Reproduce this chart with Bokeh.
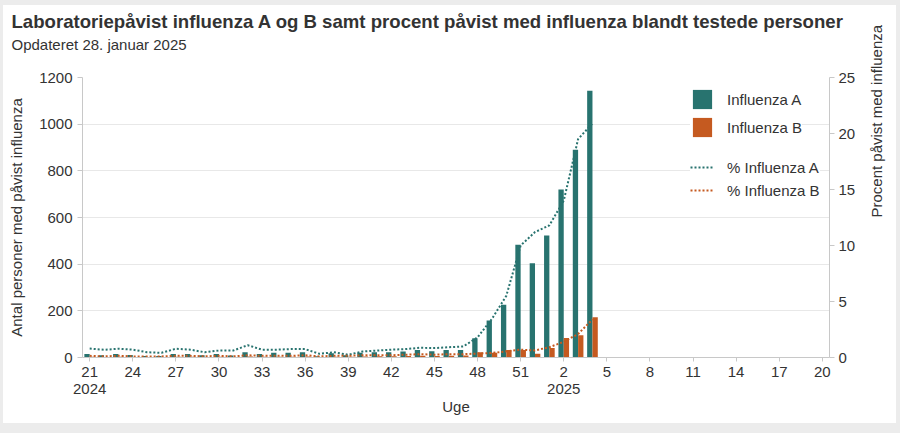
import math
from bokeh.plotting import figure
from bokeh.models import (Range1d, LinearAxis, FixedTicker, Legend, LegendItem,
                          Title, ColumnDataSource)
from bokeh.transform import dodge
from bokeh.embed import file_html
from bokeh.resources import INLINE

# ---- data ----
week_labels = ["21", "22", "23", "24", "25", "26", "27", "28", "29", "30", "31", "32",
               "33", "34", "35", "36", "37", "38", "39", "40", "41", "42", "43", "44",
               "45", "46", "47", "48", "49", "50", "51", "52",
               "1", "2", "3", "4", "5", "6", "7", "8", "9", "10", "11", "12",
               "13", "14", "15", "16", "17", "18", "19", "20"]
year_labels = {"21": "2024", "2": "2025"}

flu_a = [15, 10, 15, 11, 6, 6, 15, 15, 10, 15, 9, 22,
         15, 20, 20, 22, 5, 18, 10, 20, 22, 22, 26, 32,
         27, 32, 32, 83, 159, 226, 483, 404,
         523, 720, 890, 1143]
flu_b = [3, 2, 3, 2, 2, 2, 3, 3, 2, 3, 2, 4,
         3, 3, 3, 4, 2, 3, 3, 4, 5, 5, 6, 7,
         6, 8, 9, 23, 20, 32, 32, 16,
         41, 84, 95, 173]
pct_a = [0.8, 0.69, 0.78, 0.7, 0.47, 0.42, 0.78, 0.7, 0.47, 0.62, 0.62, 1.1,
         0.7, 0.7, 0.75, 0.75, 0.33, 0.47, 0.24, 0.54, 0.62, 0.7, 0.75, 0.87,
         0.84, 0.92, 0.98, 1.8, 3.45, 5.5, 10.0, 11.2,
         11.8, 14.0, 19.5, 20.9]
pct_b = [0.15, 0.1, 0.15, 0.1, 0.1, 0.1, 0.15, 0.15, 0.1, 0.15, 0.1, 0.2,
         0.15, 0.15, 0.15, 0.2, 0.1, 0.15, 0.15, 0.2, 0.2, 0.2, 0.25, 0.3,
         0.25, 0.3, 0.3, 0.35, 0.4, 0.55, 0.7, 0.63,
         0.92, 1.4, 2.1, 3.4]

left_ticks = [0, 200, 400, 600, 800, 1000, 1200]
right_ticks = [0, 5, 10, 15, 20, 25]

title_text = "Laboratoriepåvist influenza A og B samt procent påvist med influenza blandt testede personer"
subtitle_text = "Opdateret 28. januar 2025"

TEAL = "#28736f"
ORANGE = "#c55a20"
FONT = "Liberation Sans"
TXT = "#333333"
AXC = "#c8c8c8"

x = list(range(len(flu_a)))
src = ColumnDataSource(dict(x=x, a=flu_a, b=flu_b, pa=pct_a, pb=pct_b))

p = figure(width=893, height=418, output_backend="svg", toolbar_location=None,
           x_range=Range1d(-0.5, len(week_labels) - 0.5), y_range=Range1d(0, 1200),
           min_border_left=79, min_border_right=63, min_border_top=72,
           min_border_bottom=66)
p.styles = {"margin-left": "3px", "margin-top": "5px",
            "box-shadow": "0 0 0 14px #ececec"}
p.border_fill_color = "white"
p.outline_line_color = None
p.extra_y_ranges = {"pct": Range1d(0, 25)}

ra = p.vbar(x=dodge("x", -0.185, range=p.x_range), top="a", width=0.37,
            source=src, fill_color=TEAL, line_color=None)
rb = p.vbar(x=dodge("x", 0.185, range=p.x_range), top="b", width=0.37,
            source=src, fill_color=ORANGE, line_color=None)
la = p.line(x="x", y="pa", source=src, y_range_name="pct", line_color=TEAL,
            line_width=2, line_dash="2 2")
lb = p.line(x="x", y="pb", source=src, y_range_name="pct", line_color=ORANGE,
            line_width=2, line_dash="2 2")

# axes
ticks_x = list(range(0, len(week_labels), 3))
overrides = {}
for i in ticks_x:
    lab = week_labels[i]
    overrides[i] = lab + ("\n" + year_labels[lab] if lab in year_labels else "")

def style_axis(ax):
    ax.axis_line_color = AXC
    ax.major_tick_line_color = AXC
    ax.minor_tick_line_color = None
    ax.major_tick_in = 0
    ax.major_tick_out = 5
    ax.major_label_text_font = FONT
    ax.major_label_text_font_size = "15px"
    ax.major_label_text_color = TXT
    ax.major_label_standoff = 5
    ax.axis_label_text_font = FONT
    ax.axis_label_text_font_size = "15px"
    ax.axis_label_text_font_style = "normal"
    ax.axis_label_text_color = TXT

xa = p.xaxis[0]
xa.ticker = FixedTicker(ticks=ticks_x)
xa.major_label_overrides = overrides
xa.axis_label = "Uge"
style_axis(xa)
xa.major_tick_out = 4
xa.major_label_standoff = 1
xa.major_label_text_line_height = 1.05
xa.axis_label_standoff = -2

ya = p.yaxis[0]
ya.ticker = FixedTicker(ticks=left_ticks)
ya.axis_label = "Antal personer med påvist influenza"
style_axis(ya)
ya.axis_label_standoff = 11

yr = LinearAxis(y_range_name="pct", ticker=FixedTicker(ticks=right_ticks),
                axis_label="Procent påvist med influenza")
style_axis(yr)
yr.major_label_standoff = 4
yr.axis_label_standoff = 18
yr.axis_label_orientation = math.pi / 2
p.add_layout(yr, "right")

p.xgrid.visible = False
p.ygrid.grid_line_color = "#e8e8e8"
p.ygrid.ticker = FixedTicker(ticks=left_ticks)

# titles: panels stack outward from the frame (spacer, subtitle, title)
spacer = Title(text=" ", text_font=FONT, text_font_size="10px", standoff=10)
sub = Title(text=subtitle_text, align="left", offset=-71,
            text_font=FONT, text_font_size="15px", text_font_style="normal",
            text_color=TXT, standoff=4)
main = Title(text=title_text, align="left", offset=-71, text_font=FONT,
             text_font_size="18.6px", text_font_style="bold", text_color=TXT,
             standoff=0)
p.add_layout(spacer, "above")
p.add_layout(sub, "above")
p.add_layout(main, "above")

# legends
leg1 = Legend(items=[LegendItem(label="Influenza A", renderers=[ra]),
                     LegendItem(label="Influenza B", renderers=[rb])],
              location=(608, 218), glyph_width=24, glyph_height=24,
              label_height=24, spacing=4, padding=4, margin=0,
              label_standoff=13, label_text_font=FONT, label_text_font_size="15px",
              label_text_color=TXT, border_line_color=None,
              background_fill_color="white", background_fill_alpha=1)
leg2 = Legend(items=[LegendItem(label="% Influenza A", renderers=[la]),
                     LegendItem(label="% Influenza B", renderers=[lb])],
              location=(608, 157), glyph_width=24, glyph_height=20,
              label_height=20, spacing=3, padding=4, margin=0,
              label_standoff=13, label_text_font=FONT, label_text_font_size="15px",
              label_text_color=TXT, border_line_color=None,
              background_fill_color="white", background_fill_alpha=1)
p.add_layout(leg1, "center")
p.add_layout(leg2, "center")

open("out.html", "w").write(file_html(p, INLINE))
